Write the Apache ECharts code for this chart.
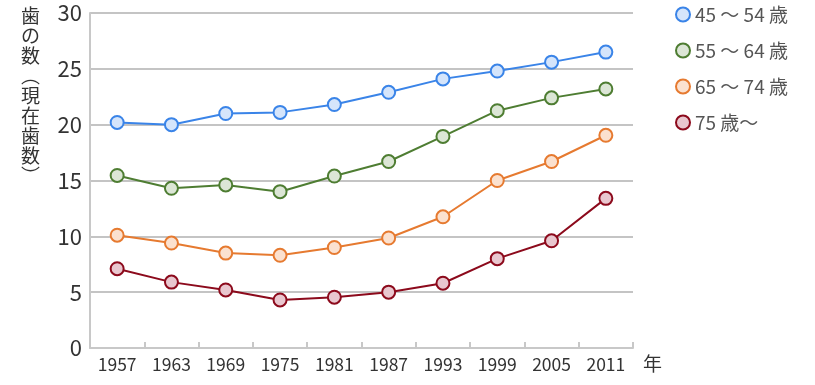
<!DOCTYPE html>
<html><head><meta charset="utf-8">
<script src="https://cdn.jsdelivr.net/npm/echarts@6/dist/echarts.min.js"></script>
<style>html,body{margin:0;padding:0;background:#fff}#c{width:815px;height:385px}</style>
</head><body><div id="c"></div>
<script>
const years = ['1957','1963','1969','1975','1981','1987','1993','1999','2005','2011'];
const seriesNames = ['45～54 歳','55～64 歳','65～74 歳','75 歳～'];
const legendLabels = ['45 ～ 54 歳','55 ～ 64 歳','65 ～ 74 歳','75 歳～'];
const age45_54 = [20.2, 20.0, 21.0, 21.1, 21.8, 22.9, 24.1, 24.8, 25.6, 26.5];
const age55_64 = [15.45, 14.3, 14.6, 14.0, 15.4, 16.7, 18.95, 21.25, 22.4, 23.2];
const age65_74 = [10.1, 9.4, 8.5, 8.3, 9.0, 9.85, 11.75, 15.0, 16.7, 19.05];
const age75up = [7.1, 5.9, 5.2, 4.3, 4.55, 5.0, 5.8, 8.0, 9.6, 13.4];
const yTicks = [0, 5, 10, 15, 20, 25, 30];

const lineColors = ['#3a84e8', '#4e7d32', '#e67a30', '#8c0a1c'];
const fillColors = ['#d5e5fb', '#dce6d6', '#fbe1cf', '#e9c7cf'];
const values = [age45_54, age55_64, age65_74, age75up];
const FONT = '"Noto Sans CJK JP", "Noto Sans", sans-serif';

const chart = echarts.init(document.getElementById('c'), null, {renderer: 'canvas'});
chart.setOption({
  animation: false,
  textStyle: {fontFamily: FONT},
  grid: {left: 90, right: 182, top: 13, bottom: 37, containLabel: false},
  legend: {
    orient: 'vertical', left: 670, top: 0,
    itemWidth: 14, itemHeight: 14, itemGap: 17,
    textStyle: {fontSize: 19, color: '#555', fontFamily: FONT},
    formatter: function (n) { return legendLabels[seriesNames.indexOf(n)]; },
    data: seriesNames.map((n, i) => ({name: n, icon: 'circle',
      itemStyle: {color: fillColors[i], borderColor: lineColors[i], borderWidth: 2}}))
  },
  xAxis: {
    type: 'category', data: years, boundaryGap: true,
    axisLine: {lineStyle: {color: '#c8c8c8', width: 2}},
    axisTick: {show: true, inside: true, length: 6, alignWithLabel: false, lineStyle: {color: '#c8c8c8', width: 2}},
    axisLabel: {fontSize: 17.5, color: '#333', margin: 8, fontFamily: FONT},
    name: '年', nameLocation: 'end', nameGap: 10,
    nameTextStyle: {fontSize: 19, color: '#333', verticalAlign: 'top', padding: [6, 0, 0, 0], fontFamily: FONT}
  },
  yAxis: {
    type: 'value', min: yTicks[0], max: yTicks[yTicks.length - 1], interval: 5,
    axisLine: {show: true, lineStyle: {color: '#c8c8c8', width: 2}},
    axisTick: {show: false},
    splitLine: {lineStyle: {color: '#c4c4c4', width: 2}},
    axisLabel: {fontSize: 22, color: '#333', margin: 8, fontFamily: FONT}
  },
  graphic: [{
    type: 'text', left: 21, top: 6,
    style: {text: '歯\nの\n数\n︵\n現\n在\n歯\n数\n︶', fontSize: 19, lineHeight: 20,
      fill: '#333', fontFamily: FONT, textAlign: 'left'}
  }],
  series: seriesNames.map((n, i) => ({
    name: n, type: 'line', data: values[i],
    symbol: 'circle', symbolSize: 13,
    lineStyle: {color: lineColors[i], width: 2},
    itemStyle: {color: fillColors[i], borderColor: lineColors[i], borderWidth: 2},
    z: 10 - i
  }))
});
</script></body></html>
